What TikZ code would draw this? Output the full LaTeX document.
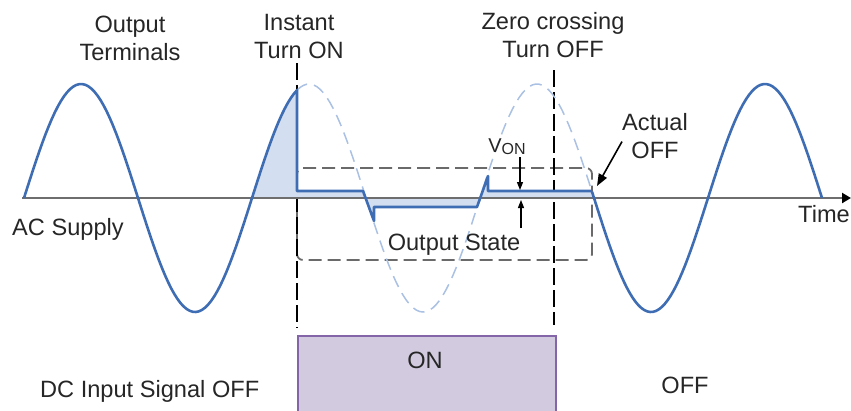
\documentclass[tikz,border=0pt]{standalone}
\usepackage{fontspec}
\setmainfont{Liberation Sans}
\usetikzlibrary{arrows.meta}

\definecolor{wavblue}{HTML}{3F6DB4}
\definecolor{fillblue}{HTML}{D3DEF0}
\definecolor{ghostblue}{HTML}{AAC1E3}
\definecolor{axisgray}{HTML}{6E6E6E}
\definecolor{boxgray}{HTML}{6A6A6A}
\definecolor{onfill}{HTML}{D2CADF}
\definecolor{onedge}{HTML}{8466A8}
\definecolor{txtgray}{HTML}{262626}

% AC supply: zero at x=24, period 228, amplitude 114 (y grows downward)
\newcommand{\acv}[1]{198-114*sin((#1-24)/228*360)}

\begin{document}
\begin{tikzpicture}[
    x=1pt, y=-1pt,
    every node/.style={font=\fontsize{23.6}{28}\selectfont, text=txtgray, inner sep=0pt},
    lbl/.style={anchor=base, align=center},
    wave/.style={wavblue, line width=2.6pt, line join=round},
    ghost/.style={ghostblue, line width=1.5pt, dash pattern=on 12pt off 7pt},
    marker/.style={black, line width=1.3pt, dash pattern=on 17pt off 5pt},
    statebox/.style={draw=boxgray, line width=1.8pt, dash pattern=on 13pt off 6pt, rounded corners=6pt},
    onbox/.style={draw=onedge, line width=2pt, fill=onfill, minimum width=258pt, minimum height=85pt},
    axisline/.style={axisgray, line width=2.8pt, -{Triangle[length=9pt, width=10pt, color=black]}},
    vonarrow/.style={black, line width=1.2pt, -{Triangle[length=8pt, width=6pt]}},
    ptr/.style={black, line width=1.6pt, -{Triangle[length=12pt, width=9pt]}},
]
\useasboundingbox (0,0) rectangle (851,410);

% ---- Markers and output state box ----
\draw[statebox] (297,168) rectangle (592,260);
\draw[marker] (297,63) -- (297,328);
\draw[marker] (554,70) -- (554,325);

% ---- Axis ----
\coordinate (axstart) at (22,198);
\coordinate (axend) at (851,198);

% ---- AC supply and output ----
\fill[fillblue] plot[domain=252:297, samples=30] (\x, {\acv{\x}}) -- (297,198) -- cycle;
\fill[fillblue] (297,198) -- (297,191) -- (363,191) -- (374,221) -- (374,207) -- (477,207)
    -- (488,176) -- (488,191) -- (592,191) -- (592,198) -- cycle;
\draw[axisline] (axstart) -- (axend);
\draw[ghost] plot[domain=297:592, samples=90] (\x, {\acv{\x}});
\draw[wave] plot[domain=24:297, samples=90] (\x, {\acv{\x}}) -- (297,191) -- (363,191)
    -- (374,221) -- (374,207) -- (477,207) -- (488,176) -- (488,191) -- (592,191);
\draw[wave] plot[domain=592:822, samples=80] (\x, {\acv{\x}});

% ---- V_ON ----
\node[lbl] (von) at (507,152) {\fontsize{20}{20}\selectfont V\raisebox{-2pt}{\fontsize{16}{16}\selectfont ON}};
\coordinate (vonhi) at (520,190);
\coordinate (vonlo) at (521,200);
\draw[vonarrow] ([yshift=-3pt]von.south -| vonhi) -- (vonhi);
\draw[vonarrow] ([yshift=-28pt]vonlo) -- (vonlo);

% ---- Labels (base = last line) ----
\node[lbl] (terminals) at (130,60) {Output\\Terminals};
\node[lbl] (turnon) at (299,58) {Instant\\Turn ON};
\node[lbl] (zerocross) at (553,57) {Zero crossing\\Turn OFF};
\node[lbl] (actualoff) at (655,158) {Actual\\OFF};
\node[lbl, anchor=base west] (acsupply) at (12,235) {AC Supply};
\node[lbl] (outstate) at (454,250) {Output State};
\node[lbl, anchor=base east] (timelbl) at (850,222) {Time};

\coordinate (offpt) at (597,186);
\draw[ptr] ([yshift=-6pt]actualoff.west) -- (offpt);

% ---- DC input ----
\node[onbox, anchor=north west] (onbox) at (297,335) {};
\node[lbl] (onlbl) at (425,368) {ON};
\node[lbl, anchor=base west] (dcoff) at (40,397) {DC Input Signal OFF};
\node[lbl] (offlbl) at (685,393) {OFF};

\end{tikzpicture}
\end{document}
